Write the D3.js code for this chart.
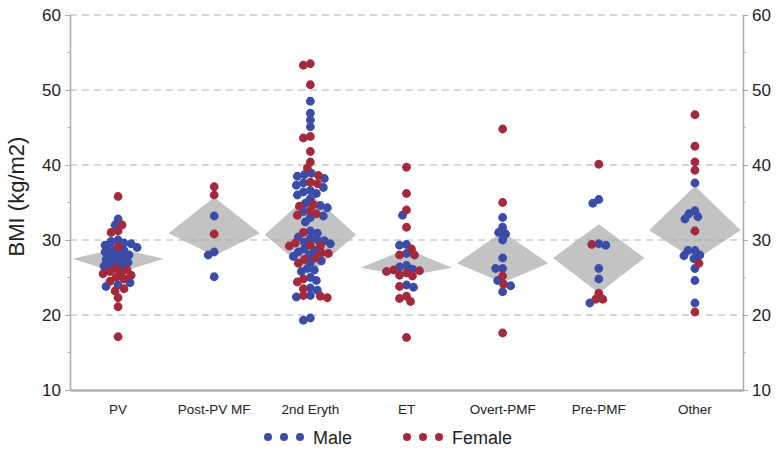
<!DOCTYPE html>
<html>
<head>
<meta charset="utf-8">
<script src="https://cdn.jsdelivr.net/npm/d3@7/dist/d3.min.js"></script>
<style>
  html, body { margin: 0; padding: 0; background: #fff; }
  svg { display: block; font-family: "Liberation Sans", Arial, sans-serif; }
</style>
</head>
<body>
<svg id="chart" width="782" height="454"></svg>
<script>
const categories = ["PV", "Post-PV MF", "2nd Eryth", "ET", "Overt-PMF", "Pre-PMF", "Other"];

const maleBMI = [
  [32.8, 32.0, 30.0, 29.8, 29.6, 29.5, 29.3, 29.0, 28.8, 28.6, 28.4, 28.2, 28.0, 27.8, 27.6, 27.4, 27.2, 27.0, 26.8, 26.6, 26.5, 24.3, 24.0, 23.8],
  [33.2, 28.4, 28.0, 25.1],
  [48.5, 46.9, 46.0, 45.1, 38.9, 38.7, 38.5, 38.2, 37.6, 37.3, 37.0, 36.6, 36.4, 36.2, 36.0, 35.5, 34.9, 34.6, 34.3, 33.8, 33.2, 33.0, 32.4,
   31.2, 30.9, 30.4, 30.2, 30.0, 29.9, 29.7, 29.5, 28.8, 28.6, 28.4, 28.0, 27.8, 27.2, 27.0, 26.2, 26.0, 25.8, 25.0, 24.6, 23.6, 23.3, 22.4, 22.6, 19.6, 19.3],
  [33.3, 29.4, 29.3, 28.2, 26.6, 26.4, 26.1, 24.0, 23.7],
  [33.0, 31.7, 31.0, 30.8, 30.0, 27.6, 26.2, 26.2, 24.6, 23.9, 23.1],
  [35.4, 34.9, 29.5, 29.3, 26.2, 24.8, 21.6],
  [37.6, 33.9, 33.5, 33.1, 32.8, 28.6, 28.6, 28.0, 27.9, 27.5, 26.2, 24.6, 21.6]
];

const femaleBMI = [
  [35.8, 32.0, 31.2, 31.0, 29.1, 26.2, 26.0, 25.8, 25.6, 25.5, 25.3, 25.0, 24.8, 24.5, 23.5, 23.2, 22.3, 21.1, 17.1],
  [37.1, 36.0, 30.8],
  [53.5, 53.3, 50.7, 43.8, 43.6, 41.8, 40.4, 39.6, 38.6, 37.7, 37.5, 34.7, 34.5, 33.9, 33.5, 33.3, 31.0, 29.6, 29.3, 29.2, 29.2,
   28.3, 28.2, 27.6, 27.4, 26.9, 24.8, 24.4, 23.5, 22.6, 22.5, 22.3],
  [39.7, 36.2, 34.0, 31.7, 28.8, 28.0, 28.0, 26.0, 25.9, 25.8, 25.6, 25.3, 25.2, 23.8, 22.5, 22.2, 21.8, 17.0],
  [44.8, 35.0, 25.2, 24.1, 17.6],
  [40.1, 29.4, 22.9, 22.1, 22.1],
  [46.7, 42.5, 40.4, 39.3, 31.2, 26.9, 20.4]
];

const meanBMI  = [27.5, 30.9, 30.7, 26.3, 26.9, 27.6, 31.3];
const lowerBMI = [25.6, 27.9, 25.6, 25.2, 24.3, 22.9, 27.3];
const upperBMI = [28.9, 35.7, 36.2, 28.8, 31.1, 32.1, 37.2];

const yTicks = [10, 20, 30, 40, 50, 60];
const yMinorTicks = [15, 25, 35, 45, 55];
const gridValues = [20, 30, 40, 50, 60];
const legendItems = [{ label: "Male", key: "male" }, { label: "Female", key: "female" }];

const colors = { male: "#3a4ca8", female: "#a3293c" };

const svg = d3.select("#chart");
const margin = { left: 70, right: 39, top: 15, bottom: 64 };
const W = 782, H = 454;
const plotL = margin.left, plotR = W - margin.right, plotT = margin.top, plotB = H - margin.bottom;

const x = d3.scaleBand().domain(categories).range([plotL, plotR]).paddingInner(0).paddingOuter(0);
const y = d3.scaleLinear().domain([10, 60]).range([plotB, plotT]);

// diamonds
const halfW = x.bandwidth() * 0.475;
svg.append("g").selectAll("path").data(categories).join("path")
  .attr("d", (c, i) => {
    const cx = x(c) + x.bandwidth() / 2;
    return `M${cx - halfW},${y(meanBMI[i])}L${cx},${y(upperBMI[i])}L${cx + halfW},${y(meanBMI[i])}L${cx},${y(lowerBMI[i])}Z`;
  })
  .attr("fill", "#c3c3c3");

// grid
svg.append("g").selectAll("line").data(gridValues).join("line")
  .attr("x1", plotL).attr("x2", plotR)
  .attr("y1", d => y(d)).attr("y2", d => y(d))
  .attr("stroke", "#a8a8a8").attr("stroke-width", 1)
  .attr("stroke-dasharray", "7,5")
  .attr("opacity", 0.9);

// axes
const axisColor = "#aaaaaa";
function styleAxis(g) {
  g.select(".domain").attr("stroke", axisColor).attr("stroke-width", 1.5);
  g.selectAll(".tick line").attr("stroke", axisColor);
  g.selectAll(".tick text").attr("fill", "#222").attr("font-size", 17)
    .attr("font-family", "'Liberation Sans', Arial, sans-serif");
}
const leftAxis = d3.axisLeft(y).tickValues(yTicks).tickSize(5).tickPadding(4).tickSizeOuter(0);
svg.append("g").attr("transform", `translate(${plotL},0)`).call(leftAxis).call(styleAxis);
const rightAxis = d3.axisRight(y).tickValues(yTicks).tickSize(5).tickPadding(4).tickSizeOuter(0);
svg.append("g").attr("transform", `translate(${plotR},0)`).call(rightAxis).call(styleAxis);

// minor ticks
svg.append("g").selectAll("line").data(yMinorTicks).join("line")
  .attr("x1", plotL - 2.5).attr("x2", plotL).attr("y1", d => y(d)).attr("y2", d => y(d))
  .attr("stroke", axisColor);
svg.append("g").selectAll("line").data(yMinorTicks).join("line")
  .attr("x1", plotR).attr("x2", plotR + 2.5).attr("y1", d => y(d)).attr("y2", d => y(d))
  .attr("stroke", axisColor);

// bottom axis
const bottomAxis = d3.axisBottom(x).tickSize(0).tickPadding(14).tickSizeOuter(0);
const bg = svg.append("g").attr("transform", `translate(0,${plotB})`).call(bottomAxis);
bg.select(".domain").attr("stroke", "#b0b0b0").attr("stroke-width", 2.5);
bg.selectAll(".tick text").attr("fill", "#222").attr("font-size", 13.5)
  .attr("font-family", "'Liberation Sans', Arial, sans-serif");

// y label
svg.append("text")
  .attr("transform", `translate(24,${(plotT + plotB) / 2 - 6}) rotate(-90)`)
  .attr("text-anchor", "middle")
  .attr("font-size", 22).attr("fill", "#222")
  .text("BMI (kg/m2)");

// beeswarm
const r = 4.4;
const minDist = 6.6;
categories.forEach((c, i) => {
  const cx = x(c) + x.bandwidth() / 2;
  const pts = [];
  maleBMI[i].forEach(v => pts.push({ v, sex: "male" }));
  femaleBMI[i].forEach(v => pts.push({ v, sex: "female" }));
  pts.forEach(p => p.py = y(p.v));
  const placed = [];
  const order = pts.slice().sort((a, b) => a.py - b.py);
  order.forEach(p => {
    let best = null;
    for (let k = 0; k < 200; k++) {
      const off = (k % 2 === 0 ? 1 : -1) * Math.ceil(k / 2) * 1.0;
      const px = cx + off;
      const ok = placed.every(q => Math.hypot(q.px - px, q.py - p.py) >= minDist);
      if (ok) { best = px; break; }
    }
    p.px = best;
    placed.push(p);
  });
  svg.append("g").selectAll("circle").data(pts).join("circle")
    .attr("cx", d => d.px).attr("cy", d => d.py).attr("r", r)
    .attr("fill", d => colors[d.sex]);
});

// legend
const lg = svg.append("g");
const legendY = 437;
const legendStarts = [268, 407];
legendItems.forEach((it, j) => {
  const sx = legendStarts[j];
  [0, 1, 2].forEach(k => {
    lg.append("circle").attr("cx", sx + k * 16).attr("cy", legendY).attr("r", 4)
      .attr("fill", colors[it.key]);
  });
  lg.append("text").attr("x", sx + 45).attr("y", legendY + 6.5)
    .attr("font-size", 18).attr("fill", "#222").text(it.label);
});
</script>
</body>
</html>
